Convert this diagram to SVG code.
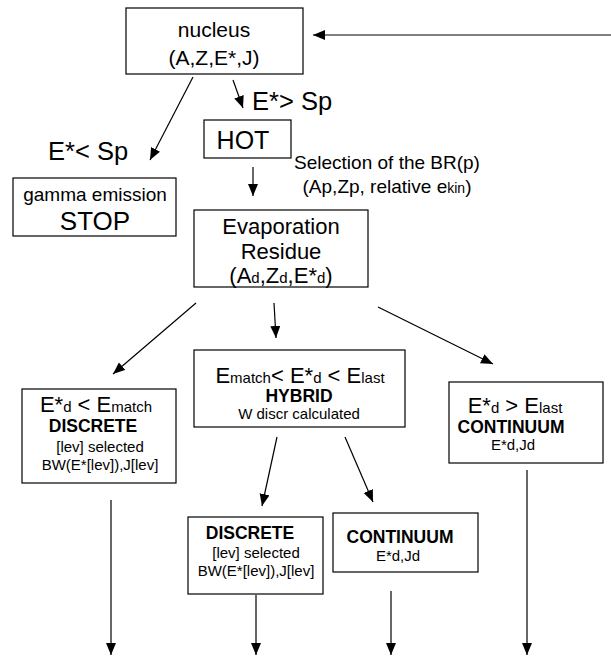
<svg xmlns="http://www.w3.org/2000/svg" width="611" height="660" viewBox="0 0 611 660">
<defs>
<marker id="ah" markerUnits="userSpaceOnUse" markerWidth="13" markerHeight="11" refX="12" refY="5" orient="auto">
<path d="M0,0 L12,5 L0,10 z" fill="#000"/>
</marker>
<style>
.box{fill:#fff;stroke:#000;stroke-width:1.2}
.t{font-family:"Liberation Sans",Arial,sans-serif;fill:#000;text-anchor:middle}
.l{font-family:"Liberation Sans",Arial,sans-serif;fill:#000}
.b{font-weight:bold}
.ln{stroke:#000;stroke-width:1.2;fill:none;marker-end:url(#ah)}
</style>
</defs>
<rect width="611" height="660" fill="#fff"/>
<g id="connectors">
<line class="ln" x1="611" y1="35" x2="313" y2="35"/>
<line class="ln" x1="193" y1="77" x2="150" y2="160"/>
<line class="ln" x1="233" y1="80" x2="243" y2="108"/>
<line class="ln" x1="253" y1="167" x2="253" y2="196"/>
<line class="ln" x1="196" y1="303" x2="113" y2="374"/>
<line class="ln" x1="274" y1="303" x2="276" y2="338"/>
<line class="ln" x1="378" y1="307" x2="493" y2="364"/>
<line class="ln" x1="277" y1="437" x2="262" y2="506"/>
<line class="ln" x1="345" y1="437" x2="373" y2="502"/>
<line class="ln" x1="111" y1="500" x2="111" y2="655"/>
<line class="ln" x1="256" y1="595" x2="256" y2="655"/>
<line class="ln" x1="391" y1="591" x2="391" y2="655"/>
<line class="ln" x1="527" y1="470" x2="527" y2="655"/>
</g>
<g id="nucleus">
<rect class="box" x="126" y="8" width="177" height="66"/>
<text class="t" x="214" y="37" font-size="21">nucleus</text>
<text class="t" x="214" y="65" font-size="21">(A,Z,E*,J)</text>
</g>
<g id="label-gt">
<text class="l" x="252" y="110" font-size="25.5">E*&gt; Sp</text>
</g>
<g id="label-lt">
<text class="l" x="48" y="160" font-size="25.5">E*&lt; Sp</text>
</g>
<g id="hot">
<rect class="box" x="204" y="120" width="87" height="38"/>
<text class="t" x="243" y="149" font-size="25">HOT</text>
</g>
<g id="gamma">
<rect class="box" x="13" y="178" width="163" height="58"/>
<text class="t" x="95" y="201" font-size="19">gamma emission</text>
<text class="t" x="95" y="230" font-size="26">STOP</text>
</g>
<g id="selection">
<text class="t" x="387" y="169" font-size="19">Selection of the BR(p)</text>
<text class="t" x="387" y="193" font-size="19">(Ap,Zp, relative e<tspan font-size="14">kin</tspan>)</text>
</g>
<g id="evaporation">
<rect class="box" x="194" y="210" width="174" height="77"/>
<text class="t" x="281" y="234" font-size="22">Evaporation</text>
<text class="t" x="281" y="259" font-size="22">Residue</text>
<text class="t" x="281" y="283" font-size="22">(A<tspan font-size="15">d</tspan>,Z<tspan font-size="15">d</tspan>,E*<tspan font-size="15">d</tspan>)</text>
</g>
<g id="discrete-left">
<rect class="box" x="22" y="389" width="154" height="94"/>
<text class="t" x="96" y="412" font-size="22">E*<tspan font-size="15">d</tspan> &lt; E<tspan font-size="15">match</tspan></text>
<text class="t b" x="93" y="432" font-size="17.5">DISCRETE</text>
<text class="t" x="100" y="452" font-size="15">[lev] selected</text>
<text class="t" x="100" y="470" font-size="15">BW(E*[lev]),J[lev]</text>
</g>
<g id="hybrid">
<rect class="box" x="194" y="350" width="211" height="77"/>
<text class="t" x="300" y="383" font-size="22">E<tspan font-size="15">match</tspan>&lt; E*<tspan font-size="15">d</tspan> &lt; E<tspan font-size="15">last</tspan></text>
<text class="t b" x="299" y="402" font-size="17.5">HYBRID</text>
<text class="t" x="299" y="419" font-size="15">W discr calculated</text>
</g>
<g id="continuum-right">
<rect class="box" x="449" y="382" width="154" height="81"/>
<text class="t" x="515" y="413" font-size="22">E*<tspan font-size="15">d</tspan> &gt; E<tspan font-size="15">last</tspan></text>
<text class="t b" x="511" y="433" font-size="17.5">CONTINUUM</text>
<text class="t" x="513" y="450" font-size="15">E*d,Jd</text>
</g>
<g id="discrete-mid">
<rect class="box" x="188" y="517" width="135" height="77"/>
<text class="t b" x="250" y="539" font-size="17.5">DISCRETE</text>
<text class="t" x="256" y="558" font-size="15">[lev] selected</text>
<text class="t" x="256" y="576" font-size="15">BW(E*[lev]),J[lev]</text>
</g>
<g id="continuum-mid">
<rect class="box" x="333" y="513" width="145" height="59"/>
<text class="t b" x="400" y="543" font-size="17.5">CONTINUUM</text>
<text class="t" x="398" y="561" font-size="15">E*d,Jd</text>
</g>
</svg>
